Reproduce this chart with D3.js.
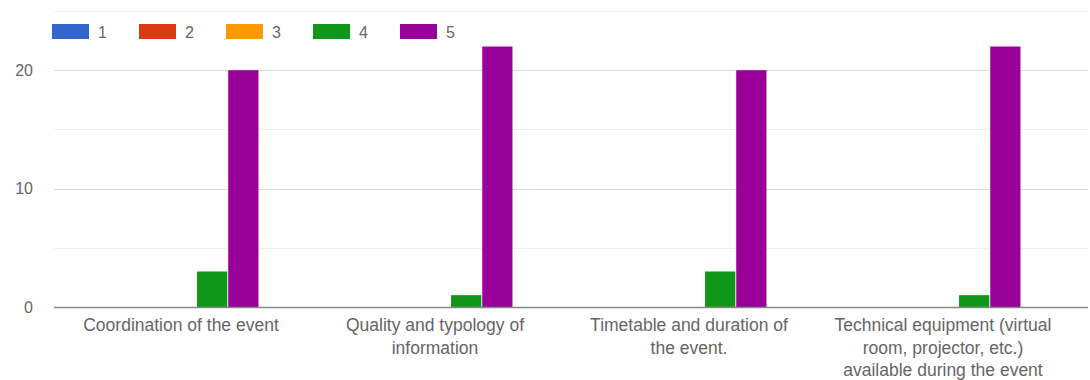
<!DOCTYPE html>
<html>
<head>
<meta charset="utf-8">
<script src="https://cdn.jsdelivr.net/npm/d3@7"></script>
<style>
  body { margin: 0; background: #fff; }
  svg { display: block; font-family: "Liberation Sans", Arial, sans-serif; }
</style>
</head>
<body>
<svg id="chart"></svg>
<script>
// Data
const categories = [
    'Coordination of the event',
    'Quality and typology of information',
    'Timetable and duration of the event.',
    'Technical equipment (virtual room, projector, etc.) available during the event'
];
const categoryLines = [
    ['Coordination of the event'],
    ['Quality and typology of', 'information'],
    ['Timetable and duration of', 'the event.'],
    ['Technical equipment (virtual', 'room, projector, etc.)', 'available during the event']
];
const seriesNames = ['1', '2', '3', '4', '5'];
const seriesColors = ['#3366cc', '#dc3912', '#ff9900', '#109618', '#990099'];
const values1 = [0, 0, 0, 0];
const values2 = [0, 0, 0, 0];
const values3 = [0, 0, 0, 0];
const values4 = [3, 1, 3, 1];
const values5 = [20, 22, 20, 22];
const majorTicks = [0, 10, 20];
const minorTicks = [5, 15, 25];

function drawChart() {
    const width = 1090;
    const height = 380;
    const margin = { top: 10, right: 20, bottom: 73, left: 54 };
    const svg = d3.select('#chart').attr('width', width).attr('height', height);

    const allSeries = [values1, values2, values3, values4, values5];

    const x0 = d3.scaleBand()
        .domain(categories)
        .range([margin.left, width - margin.right])
        .paddingInner(0.39)
        .paddingOuter(0.195);

    const x1 = d3.scaleBand()
        .domain(seriesNames)
        .range([0, x0.bandwidth()])
        .paddingInner(0.03);

    const y = d3.scaleLinear()
        .domain([0, 25])
        .range([307, 11]);

    // minor gridlines
    svg.append('g').selectAll('line')
        .data(minorTicks).join('line')
        .attr('x1', margin.left).attr('x2', width - 2)
        .attr('y1', d => Math.round(y(d)) + 0.5).attr('y2', d => Math.round(y(d)) + 0.5)
        .attr('stroke', '#f0f0f0');

    // major gridlines
    svg.append('g').selectAll('line')
        .data(majorTicks.filter(d => d !== 0)).join('line')
        .attr('x1', margin.left).attr('x2', width - 2)
        .attr('y1', d => Math.round(y(d)) + 0.5).attr('y2', d => Math.round(y(d)) + 0.5)
        .attr('stroke', '#dcdcdc');

    // y labels
    const yAxis = d3.axisLeft(y).tickValues(majorTicks).tickSize(0).tickPadding(0);
    const ya = svg.append('g').attr('transform', 'translate(33,0)').call(yAxis);
    ya.select('.domain').remove();
    ya.selectAll('text')
        .attr('fill', '#666')
        .style('font-size', '16px')
        .style('font-family', '"Liberation Sans", Arial, sans-serif');

    // bars
    const groups = svg.append('g').selectAll('g')
        .data(categories).join('g')
        .attr('transform', d => `translate(${x0(d)},0)`);

    groups.selectAll('rect')
        .data((d, i) => seriesNames.map((s, k) => ({ s: s, v: allSeries[k][i], c: seriesColors[k] })))
        .join('rect')
        .attr('x', d => x1(d.s))
        .attr('width', x1.bandwidth())
        .attr('y', d => y(d.v))
        .attr('height', d => y(0) - y(d.v))
        .attr('fill', d => d.c);

    // baseline
    svg.append('line')
        .attr('x1', margin.left).attr('x2', width - 2)
        .attr('y1', y(0) + 0.5).attr('y2', y(0) + 0.5)
        .attr('stroke', '#888').attr('stroke-width', 1.5);

    // x labels
    const xl = svg.append('g').selectAll('text')
        .data(categories).join('text')
        .attr('x', d => x0(d) + x0.bandwidth() / 2)
        .attr('y', 331)
        .attr('text-anchor', 'middle')
        .attr('fill', '#666')
        .style('font-size', '17.5px');
    xl.selectAll('tspan')
        .data((d, i) => categoryLines[i]).join('tspan')
        .attr('x', function () { return d3.select(this.parentNode).attr('x'); })
        .attr('dy', (d, j) => j === 0 ? 0 : 22.5)
        .text(d => d);

    // legend
    const legend = svg.append('g').selectAll('g')
        .data(seriesNames).join('g')
        .attr('transform', (d, i) => `translate(${52 + i * 87},24)`);
    legend.append('rect')
        .attr('width', 37).attr('height', 15)
        .attr('fill', (d, i) => seriesColors[i]);
    legend.append('text')
        .attr('x', 46).attr('y', 13.5)
        .attr('fill', '#666')
        .style('font-size', '16px')
        .text(d => d);
}

drawChart();
</script>
</body>
</html>
